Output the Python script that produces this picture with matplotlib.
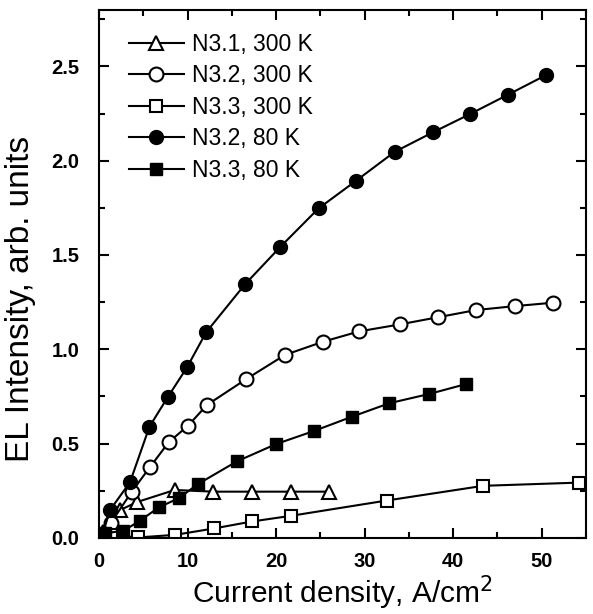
import matplotlib
matplotlib.use("Agg")
import matplotlib.pyplot as plt
from matplotlib.ticker import MultipleLocator

plt.rcParams['font.family'] = ['Liberation Sans', 'DejaVu Sans']

# N3.1, 300 K (open triangles)
x_n31_300 = [0.5, 2.4, 4.3, 8.55, 12.9, 17.25, 21.7, 25.95]
y_n31_300 = [0.03, 0.148, 0.19, 0.254, 0.245, 0.245, 0.245, 0.245]

# N3.2, 300 K (open circles)
x_n32_300 = [0.4, 1.35, 3.7, 5.8, 7.87, 10.06, 12.2, 16.6, 21.0, 25.3, 29.4,
             34.0, 38.3, 42.6, 47.0, 51.3]
y_n32_300 = [0.02, 0.08, 0.245, 0.378, 0.507, 0.595, 0.705, 0.841, 0.97, 1.04,
             1.095, 1.132, 1.17, 1.208, 1.229, 1.247]

# N3.3, 300 K (open squares)
x_n33_300 = [1.4, 4.35, 8.6, 13.0, 17.3, 21.7, 32.5, 43.4, 54.2]
y_n33_300 = [0.016, 0.002, 0.016, 0.05, 0.087, 0.117, 0.198, 0.276, 0.293]

# N3.2, 80 K (filled circles)
x_n32_80 = [0.4, 1.25, 3.5, 5.7, 7.75, 9.95, 12.1, 16.5, 20.5, 24.8, 29.05,
            33.4, 37.7, 41.9, 46.2, 50.5]
y_n32_80 = [0.02, 0.148, 0.295, 0.59, 0.745, 0.905, 1.09, 1.345, 1.544, 1.747,
            1.894, 2.047, 2.15, 2.247, 2.35, 2.454]

# N3.3, 80 K (filled squares)
x_n33_80 = [0.7, 2.76, 4.65, 6.8, 9.0, 11.2, 15.55, 19.98, 24.3, 28.6, 32.8,
            37.3, 41.5]
y_n33_80 = [0.025, 0.037, 0.092, 0.163, 0.21, 0.286, 0.405, 0.497, 0.567,
            0.643, 0.714, 0.763, 0.816]

fig = plt.figure(figsize=(5.93, 6.14), dpi=100)
ax = fig.add_axes([0.167, 0.124, 0.821, 0.86])

lw = 1.5
ax.plot(x_n31_300, y_n31_300, '-^', color='black', lw=lw, ms=10,
        mfc='white', mec='black', mew=1.5, label='N3.1, 300 K')
ax.plot(x_n32_300, y_n32_300, '-o', color='black', lw=lw, ms=10,
        mfc='white', mec='black', mew=1.5, label='N3.2, 300 K')
ax.plot(x_n33_300, y_n33_300, '-s', color='black', lw=lw, ms=9,
        mfc='white', mec='black', mew=1.5, label='N3.3, 300 K')
ax.plot(x_n32_80, y_n32_80, '-o', color='black', lw=lw, ms=10,
        mfc='black', mec='black', label='N3.2, 80 K')
ax.plot(x_n33_80, y_n33_80, '-s', color='black', lw=lw, ms=9,
        mfc='black', mec='black', label='N3.3, 80 K')

ax.set_xlim(0, 55)
ax.set_ylim(0, 2.8)
ax.xaxis.set_major_locator(MultipleLocator(10))
ax.xaxis.set_minor_locator(MultipleLocator(5))
ax.yaxis.set_major_locator(MultipleLocator(0.5))
ax.yaxis.set_minor_locator(MultipleLocator(0.25))
ax.yaxis.set_major_formatter(matplotlib.ticker.FormatStrFormatter('%.1f'))
ax.tick_params(which='both', direction='in', top=True, right=True, width=1.5)
ax.tick_params(which='major', length=7, labelsize=14.5)
ax.tick_params(axis='x', which='major', pad=10)
ax.tick_params(axis='y', which='major', pad=14)
ax.tick_params(which='minor', length=4)
for lab in ax.get_xticklabels() + ax.get_yticklabels():
    lab.set_fontweight('bold')
for sp in ax.spines.values():
    sp.set_linewidth(1.5)

ax.set_xlabel('Current density, A/cm$^2$', fontsize=21.5, labelpad=2)
ax.set_ylabel('EL Intensity, arb. units', fontsize=24)
ax.yaxis.set_label_coords(-0.13, 0.453)

ax.legend(loc='upper left', frameon=False, fontsize=16.5, handlelength=2.4,
          handletextpad=0.35, labelspacing=0.37,
          bbox_to_anchor=(0.014, 1.0), borderaxespad=0.6)

fig.savefig('out.png', dpi=100)
